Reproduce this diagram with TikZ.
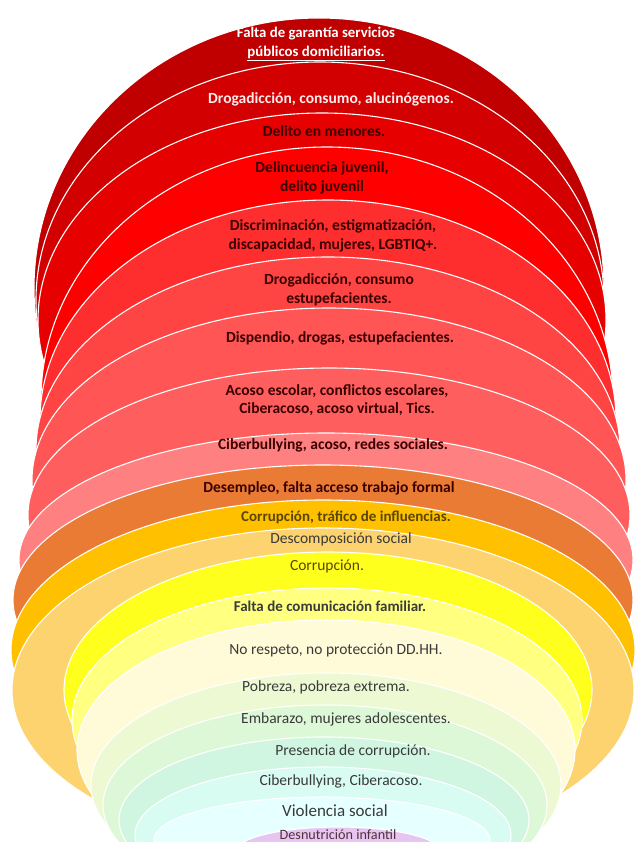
\documentclass[tikz,border=0pt]{standalone}
\usepackage{fontspec}
\setmainfont{Carlito}
\definecolor{c1}{HTML}{C00000}
\definecolor{c2}{HTML}{D20000}
\definecolor{c3}{HTML}{E60000}
\definecolor{c4}{HTML}{FF0000}
\definecolor{c5}{HTML}{FF2E2E}
\definecolor{c6}{HTML}{FF4444}
\definecolor{c7}{HTML}{FF5555}
\definecolor{c8}{HTML}{FF5E5E}
\definecolor{c9}{HTML}{FF8080}
\definecolor{c10}{HTML}{EA7B35}
\definecolor{c11}{HTML}{FFC000}
\definecolor{c12}{HTML}{FCD36E}
\definecolor{c13}{HTML}{FFFF1E}
\definecolor{c14}{HTML}{FFFF80}
\definecolor{c15}{HTML}{FFFBD8}
\definecolor{c16}{HTML}{EDF9D2}
\definecolor{c17}{HTML}{DDF8D6}
\definecolor{c18}{HTML}{D0F6E2}
\definecolor{c19}{HTML}{D8FBF2}
\definecolor{c20}{HTML}{E6FFFF}
\definecolor{c21}{HTML}{E6C6F0}
\definecolor{tdark}{HTML}{3A0000}
\definecolor{tgray}{HTML}{3A3A3A}
\definecolor{tolive}{HTML}{5A4600}
\begin{document}
\begin{tikzpicture}[x=1pt,y=-1pt,
  band/.style={draw=white, line width=1.1pt},
  redlbl/.style={align=center, text=tdark, font=\bfseries\fontsize{15.5}{18.5}\selectfont},
  ylbl/.style={align=center, text=tgray, font=\fontsize{15.5}{18.5}\selectfont}]
\useasboundingbox (0,0) rectangle (635,842);
\fill[white] (0,0) rectangle (635,842);
\clip (0,0) rectangle (635,842);
% red group
\path[band, fill=c1] (319,288) ellipse [x radius=285, y radius=270];
\path[band, fill=c2] (320,300) ellipse [x radius=284, y radius=238];
\path[band, fill=c3] (322,320) ellipse [x radius=284, y radius=207];
\path[band, fill=c4] (327,400) ellipse [x radius=286, y radius=253];
\path[band, fill=c5] (328,420) ellipse [x radius=288, y radius=220];
\path[band, fill=c6] (328,450) ellipse [x radius=292, y radius=193];
\path[band, fill=c7] (329,480) ellipse [x radius=297, y radius=172];
\path[band, fill=c8] (329,515) ellipse [x radius=301, y radius=147];
\path[band, fill=c9] (326,560) ellipse [x radius=307, y radius=127];
% orange / yellow group
\path[band, fill=c10] (323,600) ellipse [x radius=310, y radius=135];
\path[band, fill=c11] (323,650) ellipse [x radius=312, y radius=150];
\path[band, fill=c12] (323,690) ellipse [x radius=311, y radius=162];
\path[band, fill=c13] (328,690) ellipse [x radius=264, y radius=138];
\path[band, fill=c14] (327,720) ellipse [x radius=255, y radius=132];
\path[band, fill=c15] (326,750) ellipse [x radius=249, y radius=130];
\path[band, fill=c16] (326,785) ellipse [x radius=235, y radius=112];
\path[band, fill=c17] (325,805) ellipse [x radius=222, y radius=100];
\path[band, fill=c18] (324,820) ellipse [x radius=205, y radius=83];
\path[band, fill=c19] (323,835) ellipse [x radius=188, y radius=68];
\path[band, fill=c20] (322,840) ellipse [x radius=168, y radius=43];
\path[band, fill=c21] (338,852) ellipse [x radius=103, y radius=25];
% labels
\node[redlbl, text=white, font=\bfseries\fontsize{14.8}{18.5}\selectfont] (t1) at (316,44) {Falta de garantía servicios\\\underline{públicos domiciliarios.}};
\node[redlbl, text=white!92!red] (t2) at (331,99) {Drogadicción, consumo, alucinógenos.};
\node[redlbl] (t3) at (324,131) {Delito en menores.};
\node[redlbl] (t4) at (322,178) {Delincuencia juvenil,\\delito juvenil};
\node[redlbl] (t5) at (333,236) {Discriminación, estigmatización,\\discapacidad, mujeres, LGBTIQ+.};
\node[redlbl] (t6) at (339,290) {Drogadicción, consumo\\estupefacientes.};
\node[redlbl] (t7) at (340,338) {Dispendio, drogas, estupefacientes.};
\node[redlbl] (t8) at (337,400) {Acoso escolar, conflictos escolares,\\Ciberacoso, acoso virtual, Tics.};
\node[redlbl] (t9) at (333,445) {Ciberbullying, acoso, redes sociales.};
\node[redlbl] (t10) at (329,488) {Desempleo, falta acceso trabajo formal};
\node[ylbl, text=tolive, font=\bfseries\fontsize{15}{18}\selectfont] (t11) at (346,517) {Corrupción, tráfico de influencias.};
\node[ylbl] (t12) at (341,539) {Descomposición social};
\node[ylbl, text=tolive] (t13) at (327,566) {Corrupción.};
\node[ylbl, font=\bfseries\fontsize{15}{18}\selectfont] (t14) at (330,606) {Falta de comunicación familiar.};
\node[ylbl] (t15) at (336,650) {No respeto, no protección DD.HH.};
\node[ylbl] (t16) at (326,687) {Pobreza, pobreza extrema.};
\node[ylbl] (t17) at (346,719) {Embarazo, mujeres adolescentes.};
\node[ylbl] (t18) at (353,751) {Presencia de corrupción.};
\node[ylbl] (t19) at (341,781) {Ciberbullying, Ciberacoso.};
\node[ylbl, font=\fontsize{17}{20}\selectfont] (t20) at (335,811) {Violencia social};
\node[ylbl, font=\fontsize{14.2}{16}\selectfont, text=tgray!80!purple] (t21) at (338,835) {Desnutrición infantil};
\end{tikzpicture}
\end{document}
